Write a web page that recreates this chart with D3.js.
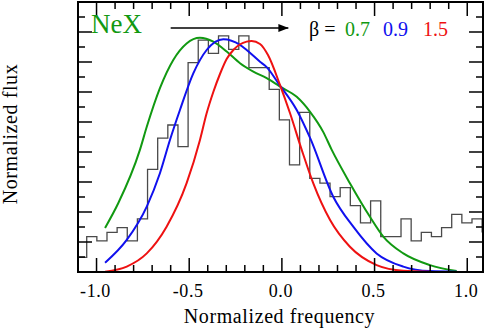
<!DOCTYPE html>
<html>
<head>
<meta charset="utf-8">
<script src="https://cdn.jsdelivr.net/npm/d3@7"></script>
<style>
  body { margin: 0; background: #fff; }
  text { font-family: "Liberation Serif", "Times New Roman", serif; }
</style>
</head>
<body>
<div id="chart"></div>
<script>
//chart data
let binStart = -1.1077;
let binWidth = 0.0547;
let fluxHist = [0.49, 1.18, 1.04, 1.32, 1.48, 1.04, 1.77, 3.42, 4.46, 4.9, 4.18,
  6.98, 7.73, 7.29, 7.87, 7.42, 7.87, 6.81, 6.81, 6.09, 5.07, 3.57, 5.32, 3.12,
  2.96, 2.51, 2.81, 2.21, 1.64, 2.37, 1.18, 1.18, 1.77, 1.04, 1.32, 1.18, 1.48,
  1.92, 1.64, 1.77, 1.34];

let greenX = [-0.954, -0.883, -0.766, -0.729, -0.658, -0.586, -0.514, -0.442, -0.370, -0.298,
  -0.226, -0.154, -0.082, -0.010, 0.080, 0.152, 0.222, 0.269, 0.367, 0.475, 0.547, 0.655, 0.799, 0.943];
let greenY = [1.47, 2.29, 4.07, 4.84, 6.13, 7.07, 7.62, 7.81, 7.68, 7.35,
  6.96, 6.68, 6.46, 6.18, 5.84, 5.34, 4.68, 4.07, 2.96, 1.84, 1.18, 0.62, 0.23, 0.03];

let blueX = [-0.954, -0.837, -0.729, -0.658, -0.604, -0.550, -0.478, -0.406, -0.316, -0.226,
  -0.190, -0.118, -0.082, -0.019, 0.080, 0.152, 0.277, 0.385, 0.511, 0.655, 0.799, 0.943];
let blueY = [0.31, 1.07, 2.18, 3.29, 4.40, 5.40, 6.62, 7.40, 7.76, 7.57,
  7.40, 7.01, 6.83, 6.29, 5.40, 4.47, 2.51, 1.51, 0.62, 0.18, 0.03, 0.01];

let redX = [-0.954, -0.837, -0.729, -0.622, -0.514, -0.442, -0.406, -0.370, -0.334, -0.298,
  -0.262, -0.190, -0.163, -0.118, -0.075, -0.010, 0.044, 0.107, 0.169, 0.260, 0.367, 0.511, 0.655, 0.799];
let redY = [0.01, 0.18, 0.62, 1.51, 2.96, 4.40, 5.29, 6.00, 6.60, 7.10,
  7.40, 7.68, 7.70, 7.60, 7.23, 6.23, 5.29, 4.07, 2.96, 1.73, 0.84, 0.23, 0.04, 0.01];

let xTickLabels = ["-1.0", "-0.5", "0.0", "0.5", "1.0"];
let betaLabels = ["0.7", "0.9", "1.5"];
let betaColors = ["#119911", "#1010ee", "#ee1111"];

//layout
let width = 486, height = 328;
let plotLeft = 78, plotRight = 483, plotTop = 2, plotBottom = 272;

var svg = d3.select("#chart")
        .append("svg")
        .attr("width", width)
        .attr("height", height);

let x = d3.scaleLinear().domain([-1.1, 1.085]).range([plotLeft, plotRight]);
let y = d3.scaleLinear().domain([0, 9]).range([plotBottom, plotTop]);

svg.append("clipPath").attr("id", "plotclip")
  .append("rect")
  .attr("x", plotLeft).attr("y", plotTop)
  .attr("width", plotRight - plotLeft).attr("height", plotBottom - plotTop);

let plot = svg.append("g").attr("clip-path", "url(#plotclip)");

//histogram as a step line
let histPts = fluxHist.map((v, i) => [binStart + i * binWidth, v]);
histPts.push([binStart + fluxHist.length * binWidth, fluxHist[fluxHist.length - 1]]);
let stepLine = d3.line()
  .x(d => x(d[0]))
  .y(d => y(d[1]))
  .curve(d3.curveStepAfter);
plot.append("path")
  .attr("d", stepLine(histPts))
  .attr("fill", "none")
  .attr("stroke", "#4a4a4a")
  .attr("stroke-width", 1.3);

//model curves
let curveLine = d3.line()
  .x(d => x(d[0]))
  .y(d => y(d[1]))
  .curve(d3.curveMonotoneX);

let curves = [[greenX, greenY], [blueX, blueY], [redX, redY]];
curves.forEach(function(c, i){
  let pts = c[0].map((v, j) => [v, c[1][j]]);
  plot.append("path")
    .attr("d", curveLine(pts))
    .attr("fill", "none")
    .attr("stroke", betaColors[i])
    .attr("stroke-width", 2);
});

//ticks, all four sides
let tickW = 1.5;
let xMinor = d3.range(-11, 11).map(d => d / 10);
xMinor.forEach(function(v){
  let major = Math.abs(Math.round(v * 10) % 5) === 0;
  let len = major ? 14 : 7;
  svg.append("line")
    .attr("x1", x(v)).attr("x2", x(v))
    .attr("y1", plotBottom).attr("y2", plotBottom - len)
    .attr("stroke", "#000").attr("stroke-width", tickW);
  svg.append("line")
    .attr("x1", x(v)).attr("x2", x(v))
    .attr("y1", plotTop).attr("y2", plotTop + len)
    .attr("stroke", "#000").attr("stroke-width", tickW);
});
let yMinor = d3.range(1, 18).map(d => d / 2);
yMinor.forEach(function(v){
  let major = Number.isInteger(v);
  let len = major ? 14 : 7;
  svg.append("line")
    .attr("x1", plotLeft).attr("x2", plotLeft + len)
    .attr("y1", y(v)).attr("y2", y(v))
    .attr("stroke", "#000").attr("stroke-width", tickW);
  svg.append("line")
    .attr("x1", plotRight).attr("x2", plotRight - len)
    .attr("y1", y(v)).attr("y2", y(v))
    .attr("stroke", "#000").attr("stroke-width", tickW);
});

//frame
svg.append("rect")
  .attr("x", plotLeft).attr("y", plotTop)
  .attr("width", plotRight - plotLeft).attr("height", plotBottom - plotTop)
  .attr("fill", "none")
  .attr("stroke", "#000")
  .attr("stroke-width", 2);

//tick labels
xTickLabels.forEach(function(t){
  svg.append("text")
    .attr("x", x(+t) - 1)
    .attr("y", 297)
    .attr("text-anchor", "middle")
    .style("font-size", "18px")
    .style("letter-spacing", "0.6px")
    .text(t);
});

//axis titles
svg.append("text")
  .attr("x", (plotLeft + plotRight) / 2 - 1)
  .attr("y", 323)
  .attr("text-anchor", "middle")
  .style("font-size", "20px")
  .style("letter-spacing", "0.6px")
  .text("Normalized frequency");

svg.append("text")
  .attr("transform", "translate(17,134) rotate(-90)")
  .attr("text-anchor", "middle")
  .style("font-size", "20px")
  .style("letter-spacing", "0.6px")
  .text("Normalized flux");

//NeX label
svg.append("text")
  .attr("x", 91)
  .attr("y", 33)
  .attr("fill", betaColors[0])
  .style("font-size", "27px")
  .text("NeX");

//arrow
svg.append("defs").append("marker")
  .attr("id", "arrowhead")
  .attr("viewBox", "0 0 10 8")
  .attr("refX", 10).attr("refY", 4)
  .attr("markerWidth", 10).attr("markerHeight", 8)
  .attr("markerUnits", "userSpaceOnUse")
  .attr("orient", "auto")
  .append("path")
  .attr("d", "M0,0 L10,4 L0,8 Z")
  .attr("fill", "#000");
svg.append("line")
  .attr("x1", x(-0.6)).attr("x2", x(0.035))
  .attr("y1", 28).attr("y2", 28)
  .attr("stroke", "#000")
  .attr("stroke-width", 1.3)
  .attr("marker-end", "url(#arrowhead)");

//beta legend
let legendX = [345, 383, 423];
svg.append("text")
  .attr("x", 309)
  .attr("y", 36)
  .style("font-size", "20px")
  .text("β =");
betaLabels.forEach(function(b, i){
  svg.append("text")
    .attr("x", legendX[i])
    .attr("y", 36)
    .attr("fill", betaColors[i])
    .style("font-size", "20px")
    .text(b);
});
</script>
</body>
</html>
